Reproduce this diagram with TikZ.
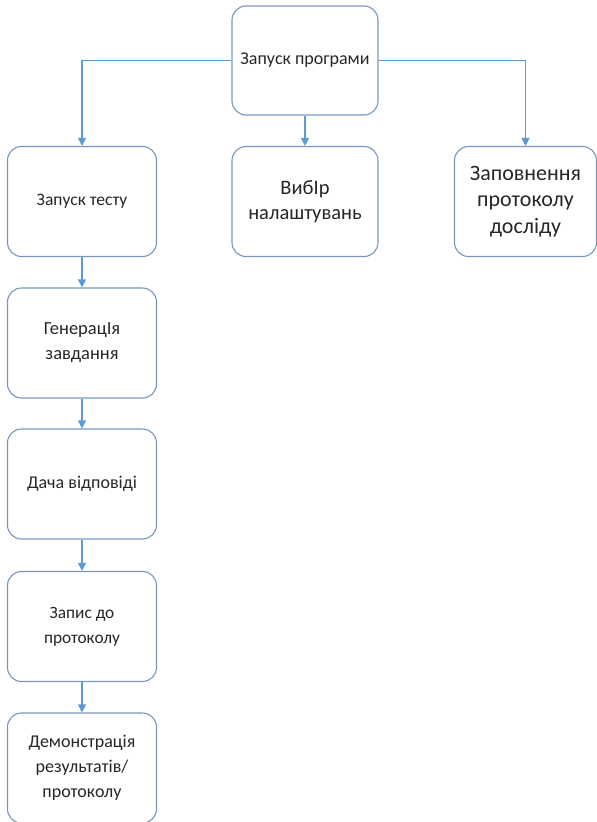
\documentclass[tikz,border=0pt]{standalone}
\usepackage{fontspec}
\setmainfont{Carlito}
\usetikzlibrary{arrows.meta}
\definecolor{boxline}{RGB}{120,150,188}
\definecolor{linkline}{RGB}{91,155,213}
\tikzset{
  stepbox/.style={draw=boxline, line width=1.1pt, rounded corners=14pt,
    minimum width=149pt, minimum height=110pt, align=center, inner sep=2pt,
    text=black!85},
  link/.style={draw=linkline, line width=1.1pt,
    -{Triangle[width=8pt,length=8pt]}},
}
\begin{document}
\begin{tikzpicture}[x=1pt,y=-1pt]
  \useasboundingbox (0,0) rectangle (597,822);
  \clip (0,0) rectangle (597,822);
  % top level
  \node[stepbox, minimum width=146pt, minimum height=109pt, font=\fontsize{18}{22}\selectfont] (start) at (305,60.5) {Запуск програми};
  % second row
  \node[stepbox, font=\fontsize{17.5}{21}\selectfont] (test) at (82,201.5) {Запуск тесту};
  \node[stepbox, minimum width=146pt, font=\fontsize{20.5}{25}\selectfont] (settings) at (305,201.5) {ВибIр\\налаштувань};
  \node[stepbox, minimum width=142pt, font=\fontsize{22}{26.5}\selectfont] (protocol) at (525.5,201.5) {Заповнення\\протоколу\\досліду};
  % test sequence
  \node[stepbox, font=\fontsize{18.5}{25}\selectfont] (gen) at (82,343) {ГенерацIя\\завдання};
  \node[stepbox, font=\fontsize{18}{22}\selectfont] (answer) at (82,484) {Дача відповіді};
  \node[stepbox, font=\fontsize{17.3}{25}\selectfont] (record) at (82,626.5) {Запис до\\протоколу};
  \node[stepbox, font=\fontsize{18}{25}\selectfont] (demo) at (82,768) {Демонстрація\\результатів/\\протоколу};
  % connectors
  \draw[link] (start.west) -| (test.north);
  \draw[link] (start.south) -- (settings.north);
  \draw[link] (start.east) -| (protocol.north);
  \draw[link] (test) -- (gen);
  \draw[link] (gen) -- (answer);
  \draw[link] (answer) -- (record);
  \draw[link] (record) -- (demo);
\end{tikzpicture}
\end{document}
